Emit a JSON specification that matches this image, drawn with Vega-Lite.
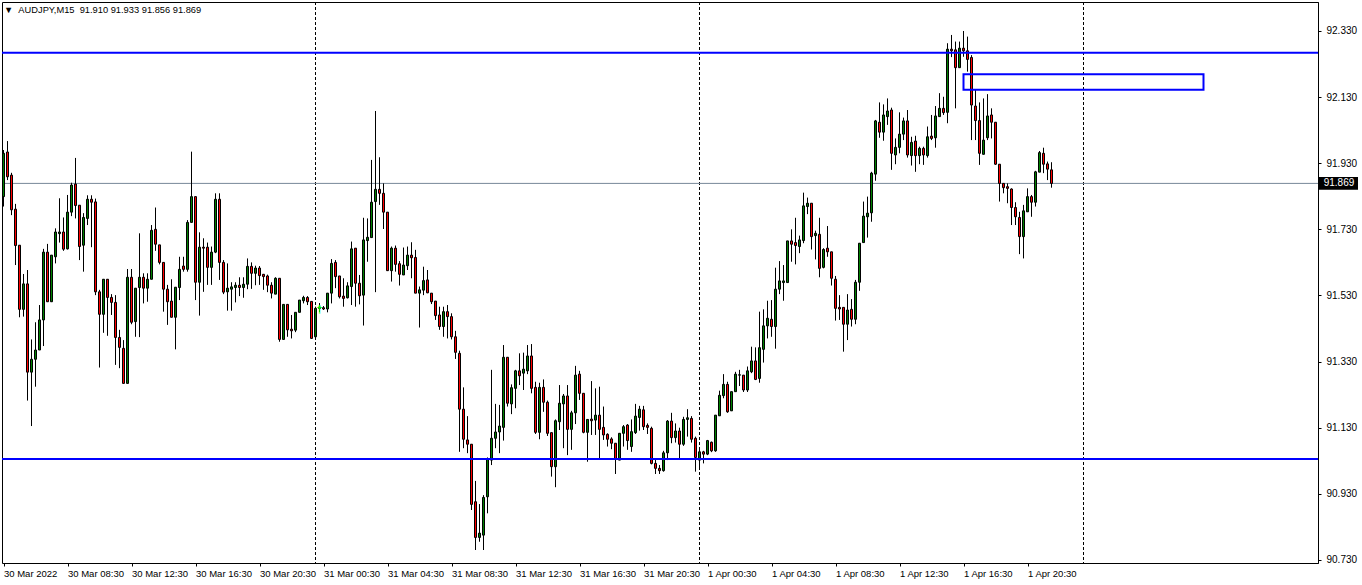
{
"$schema": "https://vega.github.io/schema/vega-lite/v6.json",
"width": 1316, "height": 561,
"autosize": "none",
"padding": {"left": 2, "top": 2, "right": 44, "bottom": 22},
"background": "white",
"config": {"view": {"stroke": "black", "strokeWidth": 1}, "font": "Liberation Sans", "scale": {"continuousPadding": 0}},
"title": {"text": "▼ \u00a0AUDJPY,M15 \u00a091.910 91.933 91.856 91.869", "anchor": "start", "frame": "group", "orient": "top", "offset": -14, "fontSize": 9.3, "fontWeight": "normal", "font": "Liberation Sans", "color": "black", "dx": 2},
"datasets": {
"candles": [
{"t":"2022-03-30T04:30","o":91.829,"h":91.970,"l":91.799,"c":91.960},
{"t":"2022-03-30T04:45","o":91.964,"h":91.997,"l":91.879,"c":91.889},
{"t":"2022-03-30T05:00","o":91.894,"h":91.901,"l":91.773,"c":91.789},
{"t":"2022-03-30T05:15","o":91.791,"h":91.807,"l":91.622,"c":91.681},
{"t":"2022-03-30T05:30","o":91.682,"h":91.682,"l":91.464,"c":91.488},
{"t":"2022-03-30T05:45","o":91.488,"h":91.595,"l":91.466,"c":91.565},
{"t":"2022-03-30T06:00","o":91.565,"h":91.607,"l":91.212,"c":91.298},
{"t":"2022-03-30T06:15","o":91.298,"h":91.397,"l":91.135,"c":91.337},
{"t":"2022-03-30T06:30","o":91.337,"h":91.449,"l":91.254,"c":91.365},
{"t":"2022-03-30T06:45","o":91.365,"h":91.501,"l":91.365,"c":91.456},
{"t":"2022-03-30T07:00","o":91.456,"h":91.671,"l":91.377,"c":91.661},
{"t":"2022-03-30T07:15","o":91.661,"h":91.686,"l":91.511,"c":91.511},
{"t":"2022-03-30T07:30","o":91.511,"h":91.652,"l":91.511,"c":91.652},
{"t":"2022-03-30T07:45","o":91.647,"h":91.733,"l":91.627,"c":91.722},
{"t":"2022-03-30T08:00","o":91.717,"h":91.824,"l":91.690,"c":91.722},
{"t":"2022-03-30T08:15","o":91.722,"h":91.766,"l":91.665,"c":91.670},
{"t":"2022-03-30T08:30","o":91.671,"h":91.834,"l":91.669,"c":91.782},
{"t":"2022-03-30T08:45","o":91.782,"h":91.871,"l":91.770,"c":91.864},
{"t":"2022-03-30T09:00","o":91.867,"h":91.946,"l":91.763,"c":91.802},
{"t":"2022-03-30T09:15","o":91.803,"h":91.803,"l":91.637,"c":91.678},
{"t":"2022-03-30T09:30","o":91.682,"h":91.779,"l":91.602,"c":91.766},
{"t":"2022-03-30T09:45","o":91.763,"h":91.833,"l":91.743,"c":91.821},
{"t":"2022-03-30T10:00","o":91.821,"h":91.833,"l":91.676,"c":91.812},
{"t":"2022-03-30T10:15","o":91.813,"h":91.823,"l":91.531,"c":91.541},
{"t":"2022-03-30T10:30","o":91.541,"h":91.547,"l":91.312,"c":91.473},
{"t":"2022-03-30T10:45","o":91.473,"h":91.579,"l":91.417,"c":91.579},
{"t":"2022-03-30T11:00","o":91.579,"h":91.579,"l":91.408,"c":91.524},
{"t":"2022-03-30T11:15","o":91.524,"h":91.534,"l":91.471,"c":91.509},
{"t":"2022-03-30T11:30","o":91.509,"h":91.531,"l":91.320,"c":91.403},
{"t":"2022-03-30T11:45","o":91.403,"h":91.426,"l":91.310,"c":91.373},
{"t":"2022-03-30T12:00","o":91.370,"h":91.395,"l":91.264,"c":91.264},
{"t":"2022-03-30T12:15","o":91.264,"h":91.610,"l":91.264,"c":91.585},
{"t":"2022-03-30T12:30","o":91.585,"h":91.610,"l":91.443,"c":91.449},
{"t":"2022-03-30T12:45","o":91.451,"h":91.552,"l":91.405,"c":91.552},
{"t":"2022-03-30T13:00","o":91.554,"h":91.718,"l":91.404,"c":91.585},
{"t":"2022-03-30T13:15","o":91.585,"h":91.597,"l":91.506,"c":91.552},
{"t":"2022-03-30T13:30","o":91.552,"h":91.597,"l":91.511,"c":91.579},
{"t":"2022-03-30T13:45","o":91.579,"h":91.743,"l":91.579,"c":91.727},
{"t":"2022-03-30T14:00","o":91.730,"h":91.796,"l":91.665,"c":91.685},
{"t":"2022-03-30T14:15","o":91.683,"h":91.683,"l":91.624,"c":91.630},
{"t":"2022-03-30T14:30","o":91.630,"h":91.630,"l":91.481,"c":91.549},
{"t":"2022-03-30T14:45","o":91.549,"h":91.562,"l":91.441,"c":91.511},
{"t":"2022-03-30T15:00","o":91.513,"h":91.579,"l":91.464,"c":91.464},
{"t":"2022-03-30T15:15","o":91.464,"h":91.555,"l":91.367,"c":91.555},
{"t":"2022-03-30T15:30","o":91.554,"h":91.647,"l":91.516,"c":91.609},
{"t":"2022-03-30T15:45","o":91.619,"h":91.647,"l":91.602,"c":91.609},
{"t":"2022-03-30T16:00","o":91.609,"h":91.758,"l":91.602,"c":91.751},
{"t":"2022-03-30T16:15","o":91.751,"h":91.965,"l":91.751,"c":91.829},
{"t":"2022-03-30T16:30","o":91.829,"h":91.829,"l":91.516,"c":91.570},
{"t":"2022-03-30T16:45","o":91.570,"h":91.721,"l":91.469,"c":91.676},
{"t":"2022-03-30T17:00","o":91.676,"h":91.703,"l":91.541,"c":91.673},
{"t":"2022-03-30T17:15","o":91.676,"h":91.690,"l":91.562,"c":91.615},
{"t":"2022-03-30T17:30","o":91.615,"h":91.678,"l":91.562,"c":91.661},
{"t":"2022-03-30T17:45","o":91.661,"h":91.839,"l":91.658,"c":91.821},
{"t":"2022-03-30T18:00","o":91.821,"h":91.839,"l":91.577,"c":91.630},
{"t":"2022-03-30T18:15","o":91.630,"h":91.637,"l":91.534,"c":91.540},
{"t":"2022-03-30T18:30","o":91.541,"h":91.627,"l":91.484,"c":91.552},
{"t":"2022-03-30T18:45","o":91.549,"h":91.570,"l":91.484,"c":91.556},
{"t":"2022-03-30T19:00","o":91.554,"h":91.570,"l":91.509,"c":91.561},
{"t":"2022-03-30T19:15","o":91.561,"h":91.585,"l":91.528,"c":91.554},
{"t":"2022-03-30T19:30","o":91.554,"h":91.585,"l":91.523,"c":91.564},
{"t":"2022-03-30T19:45","o":91.564,"h":91.642,"l":91.549,"c":91.618},
{"t":"2022-03-30T20:00","o":91.618,"h":91.630,"l":91.550,"c":91.597},
{"t":"2022-03-30T20:15","o":91.597,"h":91.620,"l":91.561,"c":91.613},
{"t":"2022-03-30T20:30","o":91.613,"h":91.619,"l":91.562,"c":91.590},
{"t":"2022-03-30T20:45","o":91.594,"h":91.595,"l":91.547,"c":91.587},
{"t":"2022-03-30T21:00","o":91.589,"h":91.593,"l":91.540,"c":91.561},
{"t":"2022-03-30T21:15","o":91.561,"h":91.570,"l":91.521,"c":91.537},
{"t":"2022-03-30T21:30","o":91.534,"h":91.585,"l":91.534,"c":91.582},
{"t":"2022-03-30T21:45","o":91.582,"h":91.582,"l":91.390,"c":91.397},
{"t":"2022-03-30T22:00","o":91.397,"h":91.503,"l":91.397,"c":91.503},
{"t":"2022-03-30T22:15","o":91.503,"h":91.503,"l":91.405,"c":91.426},
{"t":"2022-03-30T22:30","o":91.428,"h":91.471,"l":91.400,"c":91.423},
{"t":"2022-03-30T22:45","o":91.425,"h":91.479,"l":91.419,"c":91.479},
{"t":"2022-03-30T23:00","o":91.479,"h":91.516,"l":91.479,"c":91.516},
{"t":"2022-03-30T23:15","o":91.514,"h":91.529,"l":91.506,"c":91.524},
{"t":"2022-03-30T23:30","o":91.524,"h":91.528,"l":91.501,"c":91.511},
{"t":"2022-03-30T23:45","o":91.512,"h":91.512,"l":91.400,"c":91.400},
{"t":"2022-03-31T00:00","o":91.405,"h":91.496,"l":91.405,"c":91.491},
{"t":"2022-03-31T00:15","o":91.491,"h":91.507,"l":91.480,"c":91.495},
{"t":"2022-03-31T00:30","o":91.493,"h":91.498,"l":91.486,"c":91.489},
{"t":"2022-03-31T00:45","o":91.489,"h":91.537,"l":91.479,"c":91.537},
{"t":"2022-03-31T01:00","o":91.537,"h":91.640,"l":91.506,"c":91.627},
{"t":"2022-03-31T01:15","o":91.630,"h":91.637,"l":91.552,"c":91.587},
{"t":"2022-03-31T01:30","o":91.589,"h":91.589,"l":91.521,"c":91.526},
{"t":"2022-03-31T01:45","o":91.528,"h":91.582,"l":91.496,"c":91.521},
{"t":"2022-03-31T02:00","o":91.523,"h":91.570,"l":91.521,"c":91.559},
{"t":"2022-03-31T02:15","o":91.557,"h":91.693,"l":91.501,"c":91.671},
{"t":"2022-03-31T02:30","o":91.673,"h":91.673,"l":91.496,"c":91.567},
{"t":"2022-03-31T02:45","o":91.567,"h":91.592,"l":91.503,"c":91.529},
{"t":"2022-03-31T03:00","o":91.531,"h":91.765,"l":91.439,"c":91.698},
{"t":"2022-03-31T03:15","o":91.696,"h":91.763,"l":91.632,"c":91.706},
{"t":"2022-03-31T03:30","o":91.705,"h":91.940,"l":91.705,"c":91.812},
{"t":"2022-03-31T03:45","o":91.814,"h":92.088,"l":91.540,"c":91.851},
{"t":"2022-03-31T04:00","o":91.851,"h":91.948,"l":91.804,"c":91.839},
{"t":"2022-03-31T04:15","o":91.839,"h":91.869,"l":91.731,"c":91.782},
{"t":"2022-03-31T04:30","o":91.782,"h":91.782,"l":91.604,"c":91.605},
{"t":"2022-03-31T04:45","o":91.605,"h":91.678,"l":91.572,"c":91.673},
{"t":"2022-03-31T05:00","o":91.673,"h":91.681,"l":91.602,"c":91.624},
{"t":"2022-03-31T05:15","o":91.626,"h":91.634,"l":91.560,"c":91.594},
{"t":"2022-03-31T05:30","o":91.592,"h":91.675,"l":91.592,"c":91.622},
{"t":"2022-03-31T05:45","o":91.620,"h":91.678,"l":91.607,"c":91.652},
{"t":"2022-03-31T06:00","o":91.652,"h":91.691,"l":91.582,"c":91.644},
{"t":"2022-03-31T06:15","o":91.645,"h":91.668,"l":91.537,"c":91.537},
{"t":"2022-03-31T06:30","o":91.537,"h":91.557,"l":91.433,"c":91.547},
{"t":"2022-03-31T06:45","o":91.546,"h":91.617,"l":91.531,"c":91.575},
{"t":"2022-03-31T07:00","o":91.577,"h":91.607,"l":91.537,"c":91.538},
{"t":"2022-03-31T07:15","o":91.537,"h":91.537,"l":91.504,"c":91.511},
{"t":"2022-03-31T07:30","o":91.513,"h":91.513,"l":91.456,"c":91.469},
{"t":"2022-03-31T07:45","o":91.471,"h":91.496,"l":91.426,"c":91.436},
{"t":"2022-03-31T08:00","o":91.436,"h":91.496,"l":91.405,"c":91.481},
{"t":"2022-03-31T08:15","o":91.481,"h":91.501,"l":91.400,"c":91.466},
{"t":"2022-03-31T08:30","o":91.466,"h":91.476,"l":91.397,"c":91.405},
{"t":"2022-03-31T08:45","o":91.405,"h":91.423,"l":91.338,"c":91.358},
{"t":"2022-03-31T09:00","o":91.355,"h":91.363,"l":91.057,"c":91.186},
{"t":"2022-03-31T09:15","o":91.186,"h":91.252,"l":91.068,"c":91.095},
{"t":"2022-03-31T09:30","o":91.093,"h":91.165,"l":91.053,"c":91.080},
{"t":"2022-03-31T09:45","o":91.080,"h":91.080,"l":90.881,"c":90.898},
{"t":"2022-03-31T10:00","o":90.906,"h":90.969,"l":90.760,"c":90.798},
{"t":"2022-03-31T10:15","o":90.798,"h":90.899,"l":90.785,"c":90.811},
{"t":"2022-03-31T10:30","o":90.805,"h":90.926,"l":90.760,"c":90.919},
{"t":"2022-03-31T10:45","o":90.921,"h":91.040,"l":90.871,"c":91.034},
{"t":"2022-03-31T11:00","o":91.032,"h":91.305,"l":91.017,"c":91.098},
{"t":"2022-03-31T11:15","o":91.098,"h":91.202,"l":91.068,"c":91.117},
{"t":"2022-03-31T11:30","o":91.117,"h":91.199,"l":91.053,"c":91.135},
{"t":"2022-03-31T11:45","o":91.131,"h":91.380,"l":91.091,"c":91.343},
{"t":"2022-03-31T12:00","o":91.343,"h":91.343,"l":91.194,"c":91.204},
{"t":"2022-03-31T12:15","o":91.202,"h":91.261,"l":91.171,"c":91.251},
{"t":"2022-03-31T12:30","o":91.249,"h":91.305,"l":91.189,"c":91.302},
{"t":"2022-03-31T12:45","o":91.302,"h":91.355,"l":91.259,"c":91.287},
{"t":"2022-03-31T13:00","o":91.295,"h":91.357,"l":91.244,"c":91.307},
{"t":"2022-03-31T13:15","o":91.302,"h":91.380,"l":91.292,"c":91.347},
{"t":"2022-03-31T13:30","o":91.347,"h":91.383,"l":91.234,"c":91.249},
{"t":"2022-03-31T13:45","o":91.252,"h":91.269,"l":91.111,"c":91.116},
{"t":"2022-03-31T14:00","o":91.116,"h":91.266,"l":91.095,"c":91.252},
{"t":"2022-03-31T14:15","o":91.252,"h":91.276,"l":91.178,"c":91.207},
{"t":"2022-03-31T14:30","o":91.207,"h":91.212,"l":91.105,"c":91.113},
{"t":"2022-03-31T14:45","o":91.115,"h":91.115,"l":90.982,"c":91.012},
{"t":"2022-03-31T15:00","o":91.012,"h":91.155,"l":90.950,"c":91.151},
{"t":"2022-03-31T15:15","o":91.148,"h":91.259,"l":91.123,"c":91.204},
{"t":"2022-03-31T15:30","o":91.202,"h":91.232,"l":91.068,"c":91.226},
{"t":"2022-03-31T15:45","o":91.226,"h":91.259,"l":91.047,"c":91.125},
{"t":"2022-03-31T16:00","o":91.125,"h":91.181,"l":91.063,"c":91.175},
{"t":"2022-03-31T16:15","o":91.175,"h":91.317,"l":91.141,"c":91.289},
{"t":"2022-03-31T16:30","o":91.292,"h":91.302,"l":91.214,"c":91.234},
{"t":"2022-03-31T16:45","o":91.234,"h":91.234,"l":91.113,"c":91.116},
{"t":"2022-03-31T17:00","o":91.116,"h":91.155,"l":91.027,"c":91.155},
{"t":"2022-03-31T17:15","o":91.156,"h":91.271,"l":91.108,"c":91.151},
{"t":"2022-03-31T17:30","o":91.153,"h":91.249,"l":91.108,"c":91.168},
{"t":"2022-03-31T17:45","o":91.168,"h":91.254,"l":91.037,"c":91.125},
{"t":"2022-03-31T18:00","o":91.131,"h":91.194,"l":91.093,"c":91.108},
{"t":"2022-03-31T18:15","o":91.110,"h":91.113,"l":91.073,"c":91.095},
{"t":"2022-03-31T18:30","o":91.096,"h":91.101,"l":91.065,"c":91.083},
{"t":"2022-03-31T18:45","o":91.083,"h":91.083,"l":90.990,"c":91.034},
{"t":"2022-03-31T19:00","o":91.032,"h":91.113,"l":91.032,"c":91.113},
{"t":"2022-03-31T19:15","o":91.113,"h":91.138,"l":91.073,"c":91.133},
{"t":"2022-03-31T19:30","o":91.138,"h":91.141,"l":91.063,"c":91.091},
{"t":"2022-03-31T19:45","o":91.073,"h":91.155,"l":91.057,"c":91.118},
{"t":"2022-03-31T20:00","o":91.115,"h":91.202,"l":91.111,"c":91.165},
{"t":"2022-03-31T20:15","o":91.161,"h":91.196,"l":91.121,"c":91.186},
{"t":"2022-03-31T20:30","o":91.184,"h":91.196,"l":91.123,"c":91.133},
{"t":"2022-03-31T20:45","o":91.137,"h":91.143,"l":91.111,"c":91.131},
{"t":"2022-03-31T21:00","o":91.128,"h":91.133,"l":91.019,"c":91.022},
{"t":"2022-03-31T21:15","o":91.022,"h":91.037,"l":90.990,"c":91.007},
{"t":"2022-03-31T21:30","o":91.007,"h":91.017,"l":90.990,"c":91.000},
{"t":"2022-03-31T21:45","o":91.000,"h":91.060,"l":90.997,"c":91.054},
{"t":"2022-03-31T22:00","o":91.054,"h":91.153,"l":91.032,"c":91.150},
{"t":"2022-03-31T22:15","o":91.150,"h":91.175,"l":91.083,"c":91.100},
{"t":"2022-03-31T22:30","o":91.100,"h":91.143,"l":91.085,"c":91.120},
{"t":"2022-03-31T22:45","o":91.120,"h":91.130,"l":91.037,"c":91.080},
{"t":"2022-03-31T23:00","o":91.080,"h":91.163,"l":91.075,"c":91.155},
{"t":"2022-03-31T23:15","o":91.155,"h":91.186,"l":91.103,"c":91.160},
{"t":"2022-03-31T23:30","o":91.158,"h":91.165,"l":91.085,"c":91.095},
{"t":"2022-03-31T23:45","o":91.098,"h":91.103,"l":90.997,"c":91.040},
{"t":"2022-04-01T00:00","o":91.032,"h":91.063,"l":91.002,"c":91.057},
{"t":"2022-04-01T00:15","o":91.057,"h":91.060,"l":91.022,"c":91.050},
{"t":"2022-04-01T00:30","o":91.050,"h":91.093,"l":91.047,"c":91.091},
{"t":"2022-04-01T00:45","o":91.086,"h":91.088,"l":91.056,"c":91.060},
{"t":"2022-04-01T01:00","o":91.060,"h":91.168,"l":91.057,"c":91.168},
{"t":"2022-04-01T01:15","o":91.166,"h":91.242,"l":91.166,"c":91.228},
{"t":"2022-04-01T01:30","o":91.227,"h":91.292,"l":91.219,"c":91.261},
{"t":"2022-04-01T01:45","o":91.261,"h":91.269,"l":91.175,"c":91.178},
{"t":"2022-04-01T02:00","o":91.181,"h":91.239,"l":91.181,"c":91.239},
{"t":"2022-04-01T02:15","o":91.239,"h":91.299,"l":91.239,"c":91.292},
{"t":"2022-04-01T02:30","o":91.289,"h":91.305,"l":91.256,"c":91.290},
{"t":"2022-04-01T02:45","o":91.289,"h":91.289,"l":91.238,"c":91.244},
{"t":"2022-04-01T03:00","o":91.244,"h":91.315,"l":91.238,"c":91.302},
{"t":"2022-04-01T03:15","o":91.299,"h":91.375,"l":91.295,"c":91.332},
{"t":"2022-04-01T03:30","o":91.332,"h":91.373,"l":91.274,"c":91.276},
{"t":"2022-04-01T03:45","o":91.279,"h":91.481,"l":91.266,"c":91.372},
{"t":"2022-04-01T04:00","o":91.367,"h":91.488,"l":91.327,"c":91.438},
{"t":"2022-04-01T04:15","o":91.438,"h":91.514,"l":91.400,"c":91.461},
{"t":"2022-04-01T04:30","o":91.458,"h":91.516,"l":91.405,"c":91.436},
{"t":"2022-04-01T04:45","o":91.436,"h":91.614,"l":91.369,"c":91.549},
{"t":"2022-04-01T05:00","o":91.549,"h":91.634,"l":91.534,"c":91.574},
{"t":"2022-04-01T05:15","o":91.569,"h":91.622,"l":91.514,"c":91.574},
{"t":"2022-04-01T05:30","o":91.569,"h":91.695,"l":91.569,"c":91.695},
{"t":"2022-04-01T05:45","o":91.695,"h":91.730,"l":91.632,"c":91.685},
{"t":"2022-04-01T06:00","o":91.690,"h":91.765,"l":91.624,"c":91.681},
{"t":"2022-04-01T06:15","o":91.678,"h":91.711,"l":91.658,"c":91.698},
{"t":"2022-04-01T06:30","o":91.696,"h":91.841,"l":91.688,"c":91.801},
{"t":"2022-04-01T06:45","o":91.799,"h":91.826,"l":91.776,"c":91.809},
{"t":"2022-04-01T07:00","o":91.809,"h":91.809,"l":91.669,"c":91.708},
{"t":"2022-04-01T07:15","o":91.711,"h":91.726,"l":91.639,"c":91.718},
{"t":"2022-04-01T07:30","o":91.715,"h":91.765,"l":91.585,"c":91.612},
{"t":"2022-04-01T07:45","o":91.615,"h":91.673,"l":91.612,"c":91.669},
{"t":"2022-04-01T08:00","o":91.673,"h":91.740,"l":91.647,"c":91.662},
{"t":"2022-04-01T08:15","o":91.662,"h":91.662,"l":91.560,"c":91.582},
{"t":"2022-04-01T08:30","o":91.579,"h":91.589,"l":91.454,"c":91.491},
{"t":"2022-04-01T08:45","o":91.494,"h":91.531,"l":91.456,"c":91.489},
{"t":"2022-04-01T09:00","o":91.494,"h":91.494,"l":91.360,"c":91.443},
{"t":"2022-04-01T09:15","o":91.443,"h":91.534,"l":91.395,"c":91.486},
{"t":"2022-04-01T09:30","o":91.488,"h":91.519,"l":91.436,"c":91.458},
{"t":"2022-04-01T09:45","o":91.458,"h":91.577,"l":91.443,"c":91.570},
{"t":"2022-04-01T10:00","o":91.570,"h":91.688,"l":91.544,"c":91.688},
{"t":"2022-04-01T10:15","o":91.690,"h":91.814,"l":91.690,"c":91.770},
{"t":"2022-04-01T10:30","o":91.768,"h":91.829,"l":91.705,"c":91.779},
{"t":"2022-04-01T10:45","o":91.780,"h":91.904,"l":91.753,"c":91.900},
{"t":"2022-04-01T11:00","o":91.897,"h":92.061,"l":91.877,"c":92.058},
{"t":"2022-04-01T11:15","o":92.054,"h":92.114,"l":92.007,"c":92.024},
{"t":"2022-04-01T11:30","o":92.024,"h":92.108,"l":91.998,"c":92.076},
{"t":"2022-04-01T11:45","o":92.071,"h":92.126,"l":92.046,"c":92.088},
{"t":"2022-04-01T12:00","o":92.091,"h":92.098,"l":91.910,"c":91.960},
{"t":"2022-04-01T12:15","o":91.955,"h":92.005,"l":91.927,"c":91.978},
{"t":"2022-04-01T12:30","o":91.978,"h":92.084,"l":91.960,"c":92.018},
{"t":"2022-04-01T12:45","o":92.018,"h":92.068,"l":92.000,"c":92.058},
{"t":"2022-04-01T13:00","o":92.058,"h":92.091,"l":91.947,"c":91.955},
{"t":"2022-04-01T13:15","o":91.953,"h":92.010,"l":91.923,"c":91.993},
{"t":"2022-04-01T13:30","o":91.997,"h":92.013,"l":91.904,"c":91.953},
{"t":"2022-04-01T13:45","o":91.953,"h":91.980,"l":91.927,"c":91.975},
{"t":"2022-04-01T14:00","o":91.975,"h":91.980,"l":91.925,"c":91.955},
{"t":"2022-04-01T14:15","o":91.953,"h":92.041,"l":91.947,"c":92.010},
{"t":"2022-04-01T14:30","o":92.012,"h":92.076,"l":92.000,"c":92.005},
{"t":"2022-04-01T14:45","o":92.007,"h":92.103,"l":91.977,"c":92.073},
{"t":"2022-04-01T15:00","o":92.071,"h":92.142,"l":92.071,"c":92.096},
{"t":"2022-04-01T15:15","o":92.096,"h":92.131,"l":92.076,"c":92.083},
{"t":"2022-04-01T15:30","o":92.084,"h":92.293,"l":92.051,"c":92.275},
{"t":"2022-04-01T15:45","o":92.275,"h":92.318,"l":92.251,"c":92.270},
{"t":"2022-04-01T16:00","o":92.273,"h":92.298,"l":92.096,"c":92.219},
{"t":"2022-04-01T16:15","o":92.219,"h":92.298,"l":92.219,"c":92.278},
{"t":"2022-04-01T16:30","o":92.278,"h":92.330,"l":92.252,"c":92.270},
{"t":"2022-04-01T16:45","o":92.270,"h":92.313,"l":92.207,"c":92.244},
{"t":"2022-04-01T17:00","o":92.250,"h":92.257,"l":92.000,"c":92.106},
{"t":"2022-04-01T17:15","o":92.103,"h":92.152,"l":92.000,"c":92.059},
{"t":"2022-04-01T17:30","o":92.059,"h":92.114,"l":91.925,"c":91.960},
{"t":"2022-04-01T17:45","o":91.957,"h":92.126,"l":91.957,"c":92.000},
{"t":"2022-04-01T18:00","o":92.007,"h":92.139,"l":92.000,"c":92.073},
{"t":"2022-04-01T18:15","o":92.076,"h":92.096,"l":92.005,"c":92.054},
{"t":"2022-04-01T18:30","o":92.054,"h":92.054,"l":91.925,"c":91.927},
{"t":"2022-04-01T18:45","o":91.927,"h":91.927,"l":91.814,"c":91.869},
{"t":"2022-04-01T19:00","o":91.869,"h":91.869,"l":91.839,"c":91.856},
{"t":"2022-04-01T19:15","o":91.859,"h":91.869,"l":91.809,"c":91.854},
{"t":"2022-04-01T19:30","o":91.852,"h":91.854,"l":91.743,"c":91.796},
{"t":"2022-04-01T19:45","o":91.796,"h":91.812,"l":91.743,"c":91.768},
{"t":"2022-04-01T20:00","o":91.766,"h":91.783,"l":91.655,"c":91.708},
{"t":"2022-04-01T20:15","o":91.708,"h":91.804,"l":91.642,"c":91.786},
{"t":"2022-04-01T20:30","o":91.783,"h":91.854,"l":91.783,"c":91.829},
{"t":"2022-04-01T20:45","o":91.829,"h":91.834,"l":91.768,"c":91.812},
{"t":"2022-04-01T21:00","o":91.812,"h":91.907,"l":91.799,"c":91.904},
{"t":"2022-04-01T21:15","o":91.903,"h":91.967,"l":91.903,"c":91.962},
{"t":"2022-04-01T21:30","o":91.960,"h":91.977,"l":91.900,"c":91.927},
{"t":"2022-04-01T21:45","o":91.928,"h":91.935,"l":91.879,"c":91.912},
{"t":"2022-04-01T22:00","o":91.910,"h":91.933,"l":91.856,"c":91.869}
],
"seps": [{"d":"2022-03-31T00:00"},{"d":"2022-04-01T00:00"},{"d":"2022-04-02T00:00"}],
"levels": [{"p":92.264},{"p":91.035}],
"zone": [{"t1":"2022-04-01T16:30","t2":"2022-04-02T07:30","p1":92.199,"p2":92.152}],
"arrows": [{"t":"2022-03-31T00:15","p":91.486,"s":"†"}],
"bid": [{"p":91.869,"label":"91.869","b1":91.888,"b2":91.850,"x1":"2022-04-02T14:43:07","x2":"2022-04-02T17:09:22","xm":"2022-04-02T15:58:07"}]
},
"layer": [
{"data": {"name": "seps"}, "mark": {"type": "rule", "color": "black", "strokeWidth": 1, "strokeDash": [3, 2]},
 "encoding": {"x": {"field": "d", "type": "temporal", "scale": {"nice": false, "padding": 0, "domain": [{"year":2022,"month":3,"date":30,"hours":4,"minutes":24,"seconds":22,"milliseconds":500},{"year":2022,"month":4,"date":2,"hours":14,"minutes":39,"seconds":22,"milliseconds":500}]},
   "axis": {"orient": "bottom", "title": null, "grid": false, "domain": false, "tickSize": 3, "tickColor": "black", "labelAlign": "left", "labelBaseline": "top", "labelPadding": 2, "labelFontSize": 9.5, "labelColor": "black", "labelFont": "Liberation Sans", "labelOverlap": false, "labelFlush": false, "labelBound": false,
    "values": [{"year":2022,"month":3,"date":30,"hours":4,"minutes":30},{"year":2022,"month":3,"date":30,"hours":8,"minutes":30},{"year":2022,"month":3,"date":30,"hours":12,"minutes":30},{"year":2022,"month":3,"date":30,"hours":16,"minutes":30},{"year":2022,"month":3,"date":30,"hours":20,"minutes":30},{"year":2022,"month":3,"date":31,"hours":0,"minutes":30},{"year":2022,"month":3,"date":31,"hours":4,"minutes":30},{"year":2022,"month":3,"date":31,"hours":8,"minutes":30},{"year":2022,"month":3,"date":31,"hours":12,"minutes":30},{"year":2022,"month":3,"date":31,"hours":16,"minutes":30},{"year":2022,"month":3,"date":31,"hours":20,"minutes":30},{"year":2022,"month":4,"date":1,"hours":0,"minutes":30},{"year":2022,"month":4,"date":1,"hours":4,"minutes":30},{"year":2022,"month":4,"date":1,"hours":8,"minutes":30},{"year":2022,"month":4,"date":1,"hours":12,"minutes":30},{"year":2022,"month":4,"date":1,"hours":16,"minutes":30},{"year":2022,"month":4,"date":1,"hours":20,"minutes":30}],
    "labelExpr": "datum.index == 0 ? '30 Mar 2022' : timeFormat(datum.value, '%-d %b %H:%M')"}}}},
{"data": {"name": "bid"}, "mark": {"type": "rule", "color": "#778899", "strokeWidth": 1},
 "encoding": {"y": {"field": "p", "type": "quantitative", "scale": {"domain": [90.7207, 92.4177], "nice": false, "zero": false, "padding": 0},
   "axis": {"orient": "right", "title": null, "grid": false, "domainColor": "black", "tickColor": "black", "tickSize": 3, "labelPadding": 5, "labelFontSize": 10, "labelColor": "black", "labelFont": "Liberation Sans", "labelOverlap": false, "labelFlush": false, "labelBound": false, "format": ".3f",
    "values": [90.73, 90.83, 90.93, 91.03, 91.13, 91.23, 91.33, 91.43, 91.53, 91.63, 91.73, 91.83, 91.93, 92.03, 92.13, 92.23, 92.33]}}}},
{"data": {"name": "candles"}, "mark": {"type": "rule", "color": "black", "strokeWidth": 1},
 "encoding": {"x": {"field": "t", "type": "temporal"}, "y": {"field": "l", "type": "quantitative"}, "y2": {"field": "h"}}},
{"data": {"name": "candles"}, "mark": {"type": "bar", "size": 2, "stroke": "black", "strokeWidth": 1},
 "encoding": {"x": {"field": "t", "type": "temporal"}, "y": {"field": "o", "type": "quantitative"}, "y2": {"field": "c"},
   "fill": {"condition": {"test": "datum.c >= datum.o", "value": "#008000"}, "value": "#ff0000"}}},
{"data": {"name": "arrows"}, "mark": {"type": "text", "color": "#00ff00", "fontSize": 11, "fontWeight": "bold", "font": "Liberation Sans", "align": "center", "baseline": "middle"},
 "encoding": {"x": {"field": "t", "type": "temporal"}, "y": {"field": "p", "type": "quantitative"}, "text": {"field": "s"}}},
{"data": {"name": "levels"}, "mark": {"type": "rule", "color": "#0000ff", "strokeWidth": 2},
 "encoding": {"y": {"field": "p", "type": "quantitative"}}},
{"data": {"name": "zone"}, "mark": {"type": "rect", "fill": null, "fillOpacity": 0, "stroke": "#0000ff", "strokeWidth": 2},
 "encoding": {"x": {"field": "t1", "type": "temporal"}, "x2": {"field": "t2"}, "y": {"field": "p1", "type": "quantitative"}, "y2": {"field": "p2"}}},
{"data": {"name": "bid"}, "mark": {"type": "rect", "fill": "black"},
 "encoding": {"x": {"field": "x1", "type": "temporal"}, "x2": {"field": "x2"}, "y": {"field": "b1", "type": "quantitative"}, "y2": {"field": "b2"}}},
{"data": {"name": "bid"}, "mark": {"type": "text", "color": "white", "fontSize": 10, "font": "Liberation Sans", "align": "center", "baseline": "middle"},
 "encoding": {"x": {"field": "xm", "type": "temporal"}, "y": {"field": "p", "type": "quantitative"}, "text": {"field": "label"}}}
]
}
